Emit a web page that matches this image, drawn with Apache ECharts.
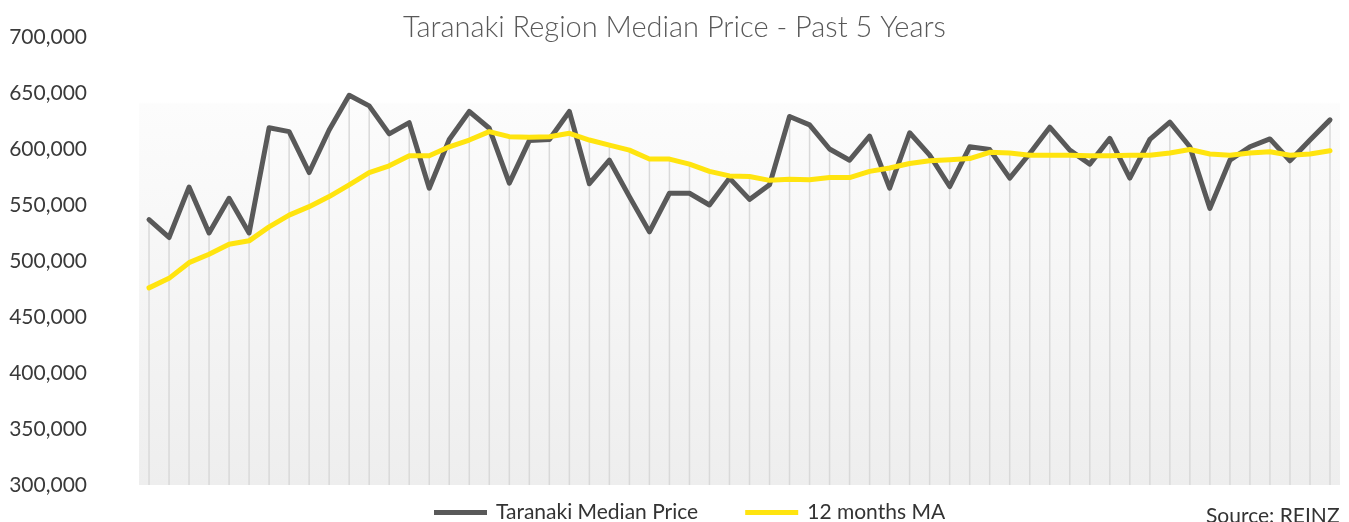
<!DOCTYPE html>
<html lang="en">
<head>
	<meta charset="UTF-8">
	<title>Taranaki Region Median Price</title>
	<style>
		html, body { margin: 0; padding: 0; background: #fff; }
	</style>
</head>
<body>
<div id="chart" style="width:1349px;height:522px;"></div>
<script src="https://cdn.jsdelivr.net/npm/echarts@6/dist/echarts.min.js"></script>
<script>
	// months, 5 years
	var months = [
		'Jan-15','Feb-15','Mar-15','Apr-15','May-15','Jun-15','Jul-15','Aug-15','Sep-15','Oct-15','Nov-15','Dec-15',
		'Jan-16','Feb-16','Mar-16','Apr-16','May-16','Jun-16','Jul-16','Aug-16','Sep-16','Oct-16','Nov-16','Dec-16',
		'Jan-17','Feb-17','Mar-17','Apr-17','May-17','Jun-17','Jul-17','Aug-17','Sep-17','Oct-17','Nov-17','Dec-17',
		'Jan-18','Feb-18','Mar-18','Apr-18','May-18','Jun-18','Jul-18','Aug-18','Sep-18','Oct-18','Nov-18','Dec-18',
		'Jan-19','Feb-19','Mar-19','Apr-19','May-19','Jun-19','Jul-19','Aug-19','Sep-19','Oct-19','Nov-19','Dec-19'
	];

	var medianPrice = [
		537000, 521000, 566000, 525000, 556000, 525000, 619000, 615500, 579000, 617000,
		648000, 638500, 613500, 623500, 565000, 608500, 633500, 618500, 569500, 607500,
		608500, 633500, 569000, 590000, 557500, 526000, 560500, 560500, 550000, 574000,
		555000, 568000, 629000, 621500, 600000, 590000, 611500, 565000, 614500, 594500,
		566500, 602000, 599500, 574000, 596000, 619500, 599000, 586500, 609500, 574000,
		608500, 624000, 602000, 547000, 590000, 602000, 609000, 589500, 608000, 626000
	];

	var movingAvg = [
		476000, 484500, 498500, 506000, 515000, 518000, 530500, 541000, 548500, 557500,
		568000, 579000, 585000, 594000, 594000, 602000, 608000, 615500, 611000, 610500,
		611000, 614000, 608000, 603500, 599000, 591000, 591000, 586500, 580000, 576000,
		575500, 572000, 573000, 572500, 574500, 574500, 580000, 583000, 587000, 589500,
		590500, 591500, 597000, 596500, 594500, 594500, 594500, 594000, 594000, 594500,
		594500, 596500, 599500, 595500, 594500, 596500, 597500, 594500, 595500, 598500
	];

	var yTicks = { min: 300000, max: 700000, step: 50000 };

	// drop lines reach up to the higher of the two lines
	var dropLines = medianPrice.map(function (v, i) {
		return Math.max(v, movingAvg[i]);
	});

	var myChart = echarts.init(document.getElementById('chart'));

	var option = {
		animation: false,
		textStyle: { fontFamily: 'Lato' },
		title: {
			text: 'Taranaki Region Median Price - Past 5 Years',
			left: 'center',
			top: 8,
			textStyle: {
				fontFamily: 'Lato',
				fontSize: 29,
				fontWeight: 300,
				color: '#595959'
			}
		},
		legend: {
			data: ['Taranaki Median Price', '12 months MA'],
			left: 434,
			top: 502,
			padding: 0,
			icon: 'rect',
			itemWidth: 53,
			itemHeight: 5,
			itemGap: 47,
			textStyle: {
				fontSize: 21,
				color: '#333',
				fontFamily: 'Lato',
				padding: [0, 0, 0, 4]
			}
		},
		graphic: [{
			type: 'text',
			left: 1206,
			top: 506,
			style: {
				text: 'Source: REINZ',
				fontFamily: 'Lato',
				fontSize: 21,
				fill: '#333'
			}
		}],
		grid: {
			left: 139,
			right: 9,
			top: 37,
			bottom: 37,
			show: true,
			borderWidth: 0,
			backgroundColor: new echarts.graphic.LinearGradient(0, 0, 0, 1, [
				{ offset: 0, color: '#ffffff' },
				{ offset: 0.145, color: '#ffffff' },
				{ offset: 0.15, color: '#fcfcfc' },
				{ offset: 1, color: '#eeeeee' }
			])
		},
		xAxis: {
			type: 'category',
			data: months,
			boundaryGap: true,
			axisLine: { show: false },
			axisTick: { show: false },
			axisLabel: { show: false },
			splitLine: { show: false }
		},
		yAxis: {
			type: 'value',
			min: yTicks.min,
			max: yTicks.max,
			interval: yTicks.step,
			axisLine: { show: false },
			axisTick: { show: false },
			splitLine: { show: false },
			axisLabel: {
				margin: 52,
				fontFamily: 'Lato',
				fontSize: 21,
				color: '#3a3a3a',
				formatter: function (v) {
					return v.toLocaleString('en-US');
				}
			}
		},
		series: [
			{
				name: 'drop',
				type: 'bar',
				data: dropLines,
				barWidth: 1.5,
				silent: true,
				itemStyle: { color: '#d9d9d9' },
				z: 1
			},
			{
				name: 'Taranaki Median Price',
				type: 'line',
				data: medianPrice,
				symbol: 'none',
				lineStyle: { color: '#595959', width: 5, cap: 'round', join: 'round' },
				itemStyle: { color: '#595959' },
				z: 3
			},
			{
				name: '12 months MA',
				type: 'line',
				data: movingAvg,
				symbol: 'none',
				lineStyle: { color: '#ffe40f', width: 5, cap: 'round', join: 'round' },
				itemStyle: { color: '#ffe40f' },
				z: 4
			}
		]
	};

	myChart.setOption(option);
</script>
</body>
</html>
